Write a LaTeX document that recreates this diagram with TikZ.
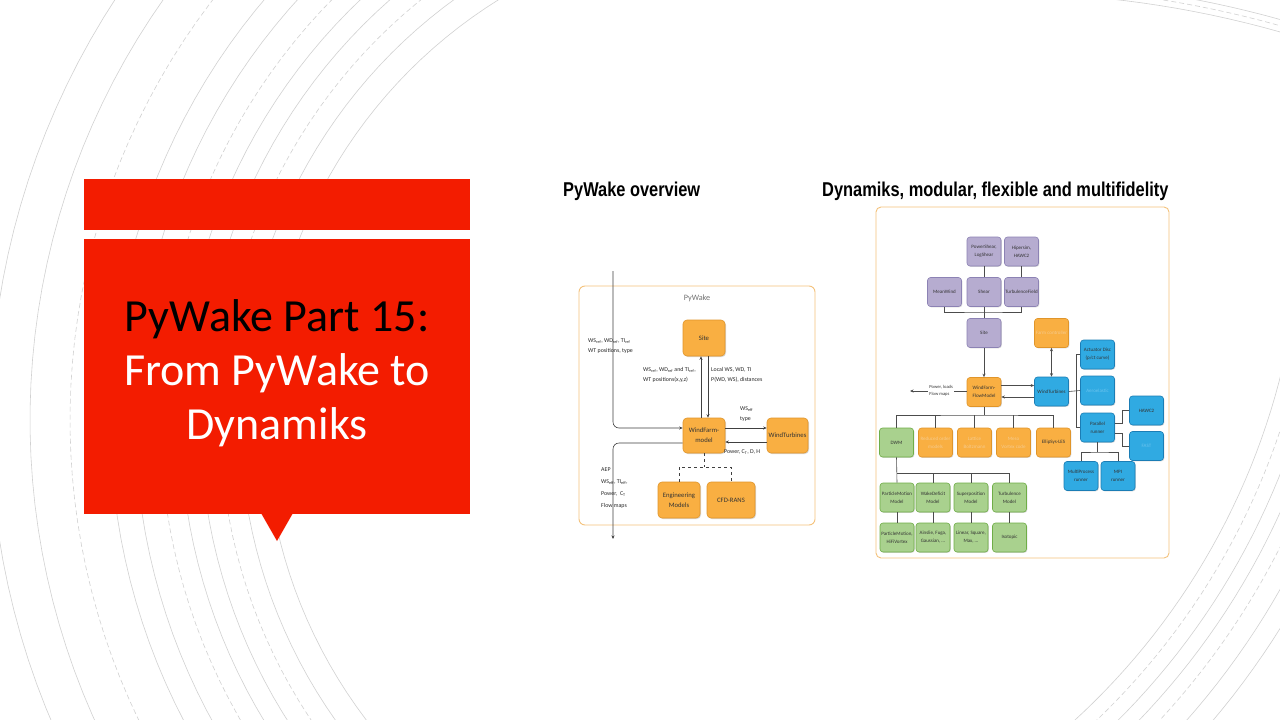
\documentclass[tikz,border=0pt]{standalone}
\usepackage{fontspec}
\setmainfont{Carlito}
\newfontfamily\narrowf[FakeStretch=0.82]{Liberation Sans}
\usetikzlibrary{arrows.meta,shadows}
\definecolor{redbox}{HTML}{F31C00}
\definecolor{orf}{HTML}{F9AF42}
\definecolor{ord}{HTML}{E0952A}
\definecolor{orfade}{HTML}{F6CB8E}
\definecolor{purf}{HTML}{B6ACD0}
\definecolor{purd}{HTML}{8C82B4}
\definecolor{bluf}{HTML}{30AAE2}
\definecolor{blud}{HTML}{1B7DB5}
\definecolor{blufade}{HTML}{6CC4EE}
\definecolor{grnf}{HTML}{A9D18E}
\definecolor{grnd}{HTML}{6FAD47}
\definecolor{framec}{HTML}{F4C27C}
\newcommand{\sbs}[1]{\textsubscript{#1}}
\begin{document}
\begin{tikzpicture}[x=1pt,y=-1pt,
  arcl/.style={draw=black!18, line width=0.6pt},
  dsh/.style={dash pattern=on 5pt off 3pt},
  dk/.style={rounded corners=3pt, minimum width=34pt, minimum height=29pt, inner sep=0.5pt, align=center,
    font=\fontsize{5}{8}\selectfont, text=black!80, line width=0.6pt,
    drop shadow={shadow xshift=0.8pt, shadow yshift=-0.8pt, opacity=0.3}},
  pur/.style={dk, fill=purf, draw=purd},
  org/.style={dk, fill=orf, draw=ord},
  orgfade/.style={org, text=orfade},
  blu/.style={dk, fill=bluf, draw=blud},
  blufaded/.style={blu, text=blufade},
  grn/.style={dk, fill=grnf, draw=grnd},
  pw/.style={rounded corners=4pt, fill=orf, draw=ord, line width=0.6pt, align=center, inner sep=0.5pt,
    font=\fontsize{6.7}{10}\selectfont, text=black!80,
    drop shadow={shadow xshift=1pt, shadow yshift=-1pt, opacity=0.3}},
  pwlab/.style={font=\fontsize{5.9}{10}\selectfont, text=black!85, align=left, inner sep=0pt},
  dkl/.style={draw=black!70, line width=0.6pt},
  dkarr/.style={dkl, -{Stealth[length=3.5pt,width=3pt]}},
  dkarr2/.style={dkl, {Stealth[length=3.5pt,width=3pt]}-{Stealth[length=3.5pt,width=3pt]}},
  pwl/.style={draw=black!75, line width=0.6pt},
  pwarr/.style={pwl, -{Stealth[length=3.5pt,width=3pt]}},
  hdr/.style={font=\narrowf\bfseries\fontsize{20}{24}\selectfont, anchor=west, inner sep=0pt}
]
\useasboundingbox (0,0) rectangle (1280,720);
\fill[white] (0,0) rectangle (1280,720);

% background arcs
\begin{scope}
\clip (0,0) rectangle (1280,720);
\foreach \R/\sty in {495/solid,520/solid,540/dsh,560/solid,580/solid,600/dsh,625/solid,650/solid,690/dsh,730/solid,770/solid}{
  \draw[arcl,\sty] plot[domain=95:265, samples=90] ({760+\R*cos(\x)},{420+\R*sin(\x)});
}
\foreach \R/\sty in {700/solid,715/dsh,730/solid,745/solid,760/dsh,780/solid,800/solid}{
  \draw[arcl,\sty] plot[domain=0:60, samples=50] ({602+\R*cos(\x)},{204+\R*sin(\x)});
}
\foreach \R/\sty in {1027/solid,1033/dsh,1039/solid}{
  \draw[arcl,\sty] plot[domain=276:300, samples=50] ({1000+\R*cos(\x)},{1020+\R*sin(\x)});
}
\end{scope}

% red title box
\fill[redbox] (84,179) rectangle (470,230);
\fill[redbox] (84,239) rectangle (470,514);
\fill[redbox] (261,513) -- (293,513) -- (277,541) -- cycle;
\node[align=center, text=white, font=\fontsize{46}{54}\selectfont, inner sep=0pt] (title) at (277,373)
  {\textcolor{black}{PyWake Part 15:}\\From PyWake to\\Dynamiks};

% headers
\node[hdr] (h1) at (563,191) {PyWake overview};
\node[hdr] (h2) at (822,191) {Dynamiks, modular, flexible and multifidelity};

% ---------------- PyWake diagram ----------------
\draw[draw=framec, line width=0.9pt, rounded corners=6pt] (579,286) rectangle (815,525);
\node[font=\fontsize{8.2}{10}\selectfont, text=black!55, inner sep=0pt] (pwt) at (697,298) {PyWake};

\node[pw, minimum width=42pt, minimum height=36pt] (site) at (704,338) {Site};
\node[pw, minimum width=42pt, minimum height=35pt] (wfm) at (704,435.5) {WindFarm-\\model};
\node[pw, minimum width=41pt, minimum height=35pt] (wtb) at (787.5,435.5) {WindTurbines};
\node[pw, minimum width=42pt, minimum height=36pt] (eng) at (679,500) {Engineering\\Models};
\node[pw, minimum width=48pt, minimum height=36pt] (cfd) at (731,500) {CFD-RANS};

\coordinate (pin) at (613,271);
\coordinate (pout) at (613,539);
\coordinate (db) at (704,467);
\draw[pwarr, rounded corners=6pt] (pin) |- ([yshift=7.5pt]wfm.west);
\draw[pwarr, rounded corners=6pt] ([yshift=-7.5pt]wfm.west) -| (pout);
\draw[pwarr] ([xshift=-3pt]wfm.north) -- ([xshift=-3pt]site.south);
\draw[pwarr] ([xshift=4pt]site.south) -- ([xshift=4pt]wfm.north);
\draw[pwarr] ([yshift=7.5pt]wfm.east) -- ([yshift=7.5pt]wtb.west);
\draw[pwarr] ([yshift=-6.5pt]wtb.west) -- ([yshift=-6.5pt]wfm.east);
\draw[pwl, dashed] (wfm.south) -- (db);
\draw[pwl, dashed] (eng.north) |- (db) -| (cfd.north);

\node[pwlab, anchor=west] (l1) at (588,346) {WS\sbs{ref}, WD\sbs{ref}, TI\sbs{ref}\\WT positions, type};
\node[pwlab, anchor=west] (l2) at (643,375) {WS\sbs{ref}, WD\sbs{ref} and TI\sbs{ref},\\WT positions(x,y,z)};
\node[pwlab, anchor=west] (l3) at (711,375) {Local WS, WD, TI\\P(WD, WS), distances};
\node[pwlab, anchor=west] (l4) at (740,414) {WS\sbs{eff}\\type};
\node[pwlab, anchor=west] (l5) at (724,452) {Power, C\sbs{T}, D, H};
\node[pwlab, anchor=west, font=\fontsize{5.9}{12}\selectfont] (l6) at (601,488) {AEP\\WS\sbs{eff}, TI\sbs{eff},\\Power,\ \ C\sbs{T}\\Flow maps};

% ---------------- Dynamiks diagram ----------------
\draw[draw=framec, line width=0.9pt, rounded corners=5pt] (876,207) rectangle (1169,558);

\node[pur] (ps) at (984,251.5) {PowerShear,\\LogShear};
\node[pur] (hip) at (1021.5,251.5) {Hipersim,\\HAWC2};
\node[pur] (mw) at (944.5,292) {MeanWind};
\node[pur] (sh) at (984,292) {Shear};
\node[pur] (tf) at (1021.5,292) {TurbulenceField};
\node[pur] (site2) at (984,333) {Site};

\node[org] (wf) at (984,392) {WindFarm-\\FlowModel};
\node[orgfade] (fc) at (1051.5,333) {Farm controller};
\node[grn] (dwm) at (896.5,442.5) {DWM};
\node[orgfade] (rom) at (935.5,442.5) {Reduced order\\models};
\node[orgfade] (lb) at (974.5,442.5) {Lattice\\Boltzmann};
\node[orgfade] (mvc) at (1013.5,442.5) {Meso\\Vortex code};
\node[org] (les) at (1053.5,442.5) {EllipSys-LES};

\node[blu] (wt) at (1051.5,391.5) {WindTurbines};
\node[blu] (ad) at (1097.5,354.5) {Actuator Disc\\(p/ct curve)};
\node[blufaded] (fb) at (1097.5,390.5) {Aeroelastic};
\node[blu] (pr) at (1097.5,427.5) {Parallel\\runner};
\node[blu] (hawc) at (1146.5,410.5) {HAWC2};
\node[blufaded] (fb2) at (1146.5,446) {FAST};
\node[blu] (mp) at (1081,476) {MultiProcess\\runner};
\node[blu] (mpi) at (1118,476) {MPI\\runner};

\node[grn] (pm) at (897,497.5) {ParticleMotion\\Model};
\node[grn] (wd) at (933,497.5) {WakeDeficit\\Model};
\node[grn] (sp) at (971,497.5) {Superposition\\Model};
\node[grn] (tm) at (1009.5,497.5) {Turbulence\\Model};
\node[grn] (pm2) at (897,537.5) {ParticleMotion,\\HiFiVortex};
\node[grn] (wd2) at (933,537.5) {Ainslie, Fuga,\\Gaussian, ...};
\node[grn] (sp2) at (971,537.5) {Linear, Square,\\Max, ...};
\node[grn] (tm2) at (1009.5,537.5) {Isotopic};

% connectors
\coordinate (sbar) at (984,312);
\draw[dkl] (ps.south) -- (sh.north);
\draw[dkl] (hip.south) -- (tf.north);
\draw[dkl] (mw.south) |- (sbar) -| (tf.south);
\draw[dkl] (sh.south) -- (site2.north);
\draw[dkarr] (site2.south) -- (wf.north);
\draw[dkarr] ([yshift=6.5pt]wf.east) -- ([yshift=6pt]wt.west);
\draw[dkarr] ([yshift=-5.5pt]wt.west) -- ([yshift=-5pt]wf.east);
\draw[dkarr2] (fc.south) -- (wt.north);

\coordinate (out) at (910,391);
\draw[dkarr] ([yshift=1pt]wf.west) -- (out)
  node[pos=0.45, fill=white, inner sep=1pt, align=left, font=\fontsize{4.6}{7}\selectfont, text=black!80] (outl) {Power, loads\\Flow maps};

\coordinate (tb) at (984,415);
\draw[dkl] (wf.south) -- (tb);
\draw[dkl] (dwm.north) |- (tb) -| (les.north);
\draw[dkl] (rom.north) -- (rom.north |- tb);
\draw[dkl] (lb.north) -- (lb.north |- tb);
\draw[dkl] (mvc.north) -- (mvc.north |- tb);

\coordinate (gb) at (953,473);
\draw[dkl] (dwm.south) -- (pm.north);
\draw[dkl] (pm.north |- gb) -| (tm.north);
\draw[dkl] (wd.north) -- (wd.north |- gb);
\draw[dkl] (sp.north) -- (sp.north |- gb);
\draw[dkl] (pm.south) -- (pm2.north);
\draw[dkl] (wd.south) -- (wd2.north);
\draw[dkl] (sp.south) -- (sp2.north);
\draw[dkl] (tm.south) -- (tm2.north);

\coordinate (vj) at (1076,0);
\draw[dkl] (wt.east) -- (fb.west);
\draw[dkl] (ad.west) -- (ad.west -| vj) -- (pr.west -| vj) -- (pr.west);

\coordinate (pj) at (1122,0);
\draw[dkl] ([yshift=4pt]pr.east) -- ([yshift=4pt]pr.east -| pj) |- (hawc.west);
\draw[dkl] ([yshift=-6pt]pr.east) -- ([yshift=-6pt]pr.east -| pj) |- (fb2.west);

\coordinate (rb) at (1099.5,452);
\draw[dkl] (pr.south) -- (pr.south |- rb);
\draw[dkl] (mp.north) |- (rb) -| (mpi.north);
\end{tikzpicture}
\end{document}
